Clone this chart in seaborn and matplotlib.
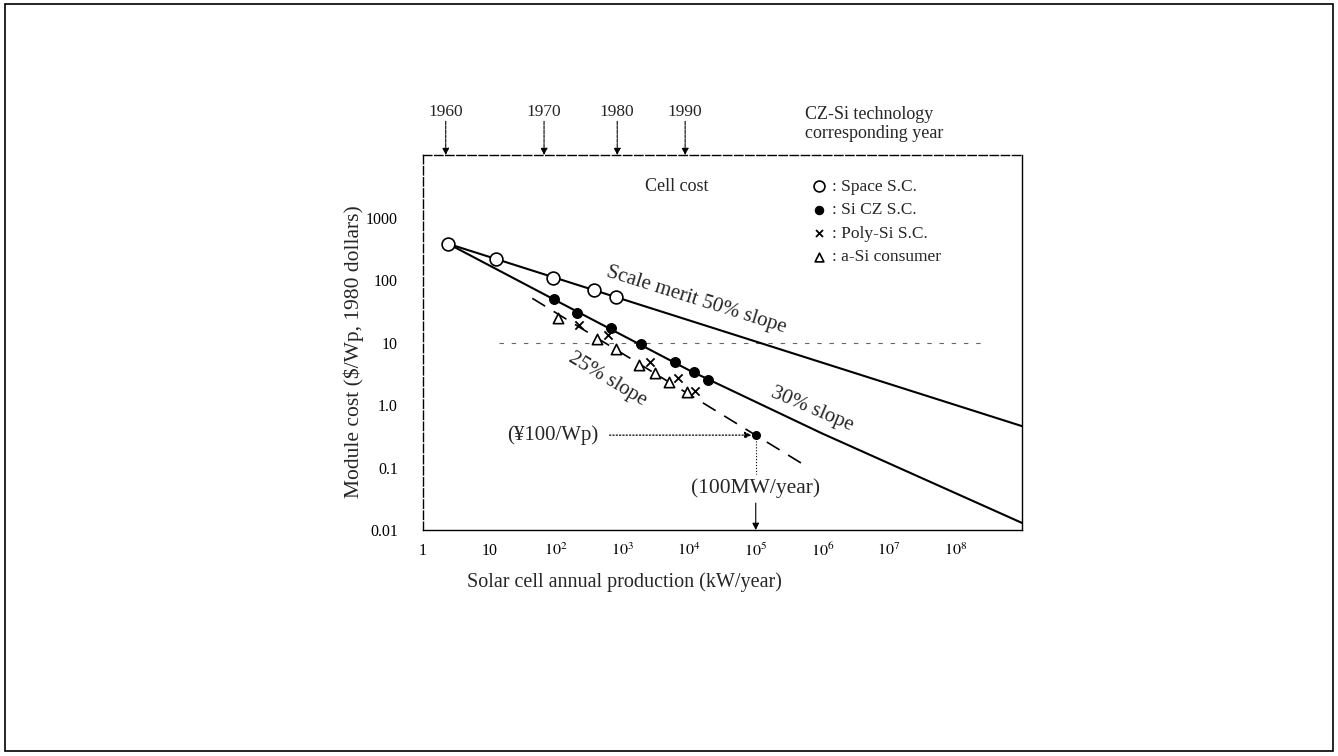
import numpy as np
import pandas as pd
import matplotlib
matplotlib.use('Agg')
import matplotlib.pyplot as plt
import seaborn as sns
from matplotlib.patches import Rectangle

# 读图得到的数据: 年产量 (kW/year) 与组件成本 ($/Wp)
space_x = [2.4, 12.5, 90, 372, 795]
space_y = [380, 219, 107, 69, 53]
czsi_x = [93, 208, 675, 1900, 6200, 12000, 19300]
czsi_y = [49, 30, 17, 9.6, 4.9, 3.4, 2.5]
poly_x = [222, 600, 2600, 6800, 12300]
poly_y = [19, 13, 4.9, 2.7, 1.7]
asi_x = [107, 415, 795, 1780, 3100, 5000, 9300]
asi_y = [25, 11.5, 7.9, 4.4, 3.2, 2.3, 1.6]

# 三条趋势线
merit50_x = [2.4, 1e9]
merit50_y = [380, 0.46]
slope30_x = [2.4, 1e2, 1e4, 1e6, 1e9]
slope30_y = [380, 47, 3.6, 0.35, 0.013]
slope25_x = [44, 5e5]
slope25_y = [51, 0.115]
ref10_x = [14, 3e8]
ref10_y = [10, 10]

# 目标点 (100MW/year, ¥100/Wp)
target_x = 1e5
target_y = 0.33

# 对应的CZ-Si技术年份
years = ['1960', '1970', '1980', '1990']
year_x = [2.2, 66, 830, 8700]

xticks = [1, 10, 1e2, 1e3, 1e4, 1e5, 1e6, 1e7, 1e8]
xticklabels = ['1', '10', r'$10^2$', r'$10^3$', r'$10^4$', r'$10^5$', r'$10^6$', r'$10^7$', r'$10^8$']
yticks = [0.01, 0.1, 1, 10, 100, 1000]
yticklabels = ['0.01', '0.1', '1.0', '10', '100', '1000']

sns.set_style("white")
plt.rcParams['font.family'] = ['Liberation Serif', 'DejaVu Serif']
plt.rcParams['mathtext.fontset'] = 'stix'

fig = plt.figure(figsize=(13.38, 7.56), dpi=100)
ax = fig.add_axes([0.3161, 0.2989, 0.4477, 0.4960])
ax.set_xscale('log')
ax.set_yscale('log')

# 趋势线
sns.lineplot(x=merit50_x, y=merit50_y, ax=ax, color='black', lw=1.5, zorder=2)
sns.lineplot(x=slope30_x, y=slope30_y, ax=ax, color='black', lw=1.5, zorder=2)
sns.lineplot(x=slope25_x, y=slope25_y, ax=ax, color='black', lw=1.2, zorder=2)
ax.lines[-1].set_dashes((9, 6))
sns.lineplot(x=ref10_x, y=ref10_y, ax=ax, color='#666666', lw=0.8, zorder=1)
ax.lines[-1].set_dashes((4, 7))

# 散点
sns.scatterplot(x=space_x, y=space_y, ax=ax, marker='o', color='white', edgecolor='black',
                s=85, linewidth=1.2, label=': Space S.C.', zorder=4)
sns.scatterplot(x=czsi_x, y=czsi_y, ax=ax, marker='o', color='black', edgecolor='black',
                s=50, linewidth=0.8, label=': Si CZ S.C.', zorder=4)
sns.scatterplot(x=poly_x, y=poly_y, ax=ax, marker='x', color='black',
                s=35, linewidth=1.3, label=': Poly-Si S.C.', zorder=4)
sns.scatterplot(x=asi_x, y=asi_y, ax=ax, marker='^', color='white', edgecolor='black',
                s=55, linewidth=1.2, label=': a-Si consumer', zorder=4)
ax.scatter([target_x], [target_y], s=30, color='black', zorder=5)

ax.set_xlim(1, 1e9)
ax.set_ylim(0.01, 1e4)
ax.set_xticks(xticks)
ax.set_xticklabels(xticklabels)
ax.set_yticks(yticks)
ax.set_yticklabels(yticklabels)
ax.minorticks_off()
ax.tick_params(axis='both', direction='in', length=5, width=0.9, labelsize=11.5, colors='black')
ax.tick_params(axis='x', pad=9)
ax.tick_params(axis='y', pad=18)
for side in ['left', 'top']:
    ax.spines[side].set_linestyle((0, (6, 2)))
for sp in ax.spines.values():
    sp.set_color('black')
    sp.set_linewidth(1.0)

ax.set_xlabel('Solar cell annual production (kW/year)', fontsize=14.5)
ax.xaxis.set_label_coords(0.337, -0.112)
ax.set_ylabel('Module cost ($/Wp, 1980 dollars)', fontsize=15.5)
ax.yaxis.set_label_coords(-0.098, 0.475)

# 图例
ax.legend(loc='upper left', bbox_to_anchor=(0.632, 0.955), frameon=False, fontsize=12.5,
          handletextpad=0.15, labelspacing=0.42, borderaxespad=0, handlelength=1.2,
          markerscale=0.85)
ax.text(0.424, 0.915, 'Cell cost', transform=ax.transAxes, fontsize=13, ha='center', va='center')

# 线上的文字
ax.text(1.3e4, 47, 'Scale merit 50% slope', fontsize=15, rotation=-17.5, ha='center', va='center',
        rotation_mode='anchor')
ax.text(7e5, 0.85, '30% slope', fontsize=15, rotation=-23, ha='center', va='center',
        rotation_mode='anchor')
ax.text(590, 2.6, '25% slope', fontsize=15, rotation=-31, ha='center', va='center',
        rotation_mode='anchor')

# 目标点的标注
ax.annotate('(¥100/Wp)', xy=(target_x, target_y), xytext=(88, target_y), fontsize=15,
            ha='center', va='center',
            arrowprops=dict(arrowstyle='-|>', ls=':', lw=0.9, color='black',
                            shrinkA=6, shrinkB=3, mutation_scale=10))
ax.text(target_x, 0.047, '(100MW/year)', fontsize=15.5, ha='center', va='center')
ax.plot([target_x, target_x], [target_y, 0.078], color='black', lw=0.8, ls=':')
ax.annotate('', xy=(target_x, 0.01), xytext=(target_x, 0.027),
            arrowprops=dict(arrowstyle='-|>', lw=0.8, color='black', mutation_scale=10,
                            shrinkA=0, shrinkB=0))

# 顶部年份箭头
for yr, xv in zip(years, year_x):
    ax.annotate('', xy=(xv, 1.0), xytext=(xv, 1.09), xycoords=('data', 'axes fraction'),
                textcoords=('data', 'axes fraction'),
                arrowprops=dict(arrowstyle='-|>', lw=0.8, ls=(0, (3, 1)), color='black',
                                mutation_scale=10, shrinkA=0, shrinkB=0))
    ax.text(xv, 1.115, yr, transform=ax.get_xaxis_transform(), fontsize=12.5,
            ha='center', va='center')
ax.text(0.638, 1.083, 'CZ-Si technology\ncorresponding year', transform=ax.transAxes,
        fontsize=13, ha='left', va='center', linespacing=1.2)

# 外框
fig.patches.append(Rectangle((0.004, 0.006), 0.992, 0.989, transform=fig.transFigure,
                             fill=False, lw=1.2, ec='black'))

plt.savefig('out.png', dpi=100)
